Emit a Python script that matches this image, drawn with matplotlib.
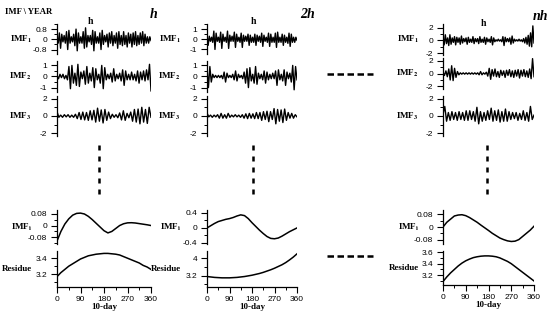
import numpy as np
import matplotlib
matplotlib.use('Agg')
import matplotlib.pyplot as plt
from matplotlib.ticker import MultipleLocator, FixedLocator

plt.rcParams['mathtext.fontset'] = 'stix'

# ****** data ******

# fast components, one list per column (h, 2h, nh)
c1_imf1 = [0.2,-0.3,0.5,-0.7,0.4,-0.2,0.3,-0.3, 0.6,-0.8,0.7,-0.3,0.2,-0.2,0.4,-0.5,
           0.8,-0.9,0.5,-0.3,0.2,-0.3,0.6,-0.7, 0.9,-0.6,0.3,-0.2,0.3,-0.4,0.7,-0.9,
           0.6,-0.3,0.2,-0.3,0.5,-0.8,0.7,-0.4, 0.3,-0.2,0.4,-0.6,0.5,-0.3,0.6,-0.5,
           0.3,-0.3,0.5,-0.7,0.6,-0.4,0.3,-0.5, 0.6,-0.4,0.3,-0.6,0.5,-0.3,0.4,-0.6,
           0.5,-0.4,0.6,-0.5,0.3,-0.4,0.5,-0.3, 0.6,-0.5,0.4,-0.3,0.2,-0.3,0.2,-0.1]
c1_imf2 = [0.1,-0.2,0.2,-0.1,0.2,-0.2,0.1,-0.3, 0.9,-1.1,1.0,-0.6,0.3,-0.8,1.1,-0.9,
           0.4,-0.2,0.5,-0.7,0.9,-0.6,0.3,-0.4, 0.8,-1.0,0.7,-0.3,0.2,-0.6,1.0,-1.1,
           0.8,-0.3,0.2,-0.2,0.3,-0.5,0.7,-0.4, 0.2,-0.2,0.3,-0.4,0.6,-0.8,0.5,-0.3,
           0.2,-0.3,0.4,-0.3,0.2,-0.4,0.5,-0.6, 0.4,-0.3,0.5,-0.4,0.6,-0.3,1.1,-1.3]
c1_imf3 = [0.5,-0.15,0.1,-0.15,0.15,-0.1,0.15,-0.15, 0.1,-0.15,0.2,-0.3,0.4,-0.4,0.45,-0.45,
           0.4,-0.5,0.6,-0.45,0.65,-0.7,0.9,-0.6, 0.7,-0.8,0.75,-0.5,0.45,-0.3,0.2,-0.15,
           0.15,-0.2,0.35,-0.45,0.6,-0.5,0.3,-0.2, 0.45,-0.6,0.75,-0.7,0.8,-0.9,1.0,-0.7,
           0.75,-0.85,1.0,-0.15]

c2_imf1 = [0.5,-0.6,0.3,-0.2,0.2,-0.3,0.8,-1.0, 0.6,-0.2,0.2,-0.3,0.7,-0.9,0.5,-0.2,
           0.2,-0.3,0.8,-0.9,0.4,-0.2,0.3,-0.2, 0.7,-0.8,0.5,-0.2,0.2,-0.3,0.6,-0.8,
           0.4,-0.2,0.3,-0.2,0.5,-0.6,0.4,-0.3, 0.2,-0.3,0.5,-0.6,0.4,-0.2,0.3,-0.3,
           0.6,-0.7,0.4,-0.2,0.2,-0.3,0.6,-0.7, 0.5,-0.3,0.2,-0.3,0.6,-0.8,0.7,-0.3,
           0.2,-0.3,0.5,-0.6,0.4,-0.3,0.2,-0.4, 0.6,-0.7,0.5,-0.3,0.2,-0.3,0.2,-0.1]
c2_imf2 = [0.8,-1.0,0.9,-0.5,0.2,-0.1,0.1,-0.1, 0.1,-0.1,0.1,-0.2,0.4,-0.5,0.3,-0.1,
           0.1,-0.1,0.2,-0.3,0.5,-0.4,0.2,-0.1, 0.1,-0.2,0.4,-0.6,0.7,-1.0,0.8,-0.4,
           0.2,-0.6,0.9,-0.7,0.3,-0.2,0.2,-0.3, 0.5,-0.6,0.4,-0.3,0.2,-0.2,0.3,-0.2,
           0.5,-0.8,0.6,-0.3,0.2,-0.4,0.6,-0.8, 0.4,-0.2,0.3,-0.5,1.0,-1.2,0.9,-0.3]
c2_imf3 = [0.35,-0.1,0.1,-0.15,0.1,-0.1,0.15,-0.25, 0.3,-0.25,0.15,-0.25,0.3,-0.15,0.1,-0.1,
           0.15,-0.1,0.1,-0.15,0.15,-0.25,0.25,-0.3, 0.3,-0.25,0.25,-0.3,0.4,-0.3,0.4,-0.5,
           0.5,-0.4,0.55,-0.65,0.5,-0.4,0.85,-0.9, 0.75,-0.6,0.7,-0.75,0.8,-0.5,0.4,-0.25,
           0.3,-0.25,0.15,-0.1]

c3_imf1 = [0.6,-0.7,0.9,-0.5,0.4,-0.8,0.9,-0.6, 0.4,-0.3,0.6,-0.7,0.5,-0.3,0.4,-0.6,
           0.7,-0.4,0.3,-0.2,0.4,-0.6,0.5,-0.3, 0.2,-0.3,0.6,-0.5,0.3,-0.2,0.3,-0.5,
           0.6,-0.3,0.2,-0.3,0.5,-0.6,0.4,-0.2, 0.2,-0.3,0.6,-0.7,0.4,-0.2,0.1,-0.1,
           0.2,-0.1,0.1,-0.2,0.6,-0.8,0.5,-0.2, 0.3,-0.2,0.4,-0.6,0.7,-0.4,0.2,-0.1,
           0.1,-0.1,0.2,-0.1,0.1,-0.2,0.3,-0.4, 0.5,-0.6,0.8,-0.9,1.2,-1.0,2.3,-0.4]
c3_imf2 = [0.2,-0.3,0.4,-0.5,0.7,-1.0,1.2,-1.1, 0.8,-0.6,0.3,-0.2,0.1,-0.1,0.1,-0.1,
           0.1,-0.1,0.1,-0.1,0.1,-0.1,0.1,-0.1, 0.1,-0.2,0.3,-0.2,0.1,-0.1,0.2,-0.4,
           0.8,-0.9,0.6,-0.4,0.7,-0.5,0.3,-0.6, 0.5,-0.3,0.4,-0.6,0.5,-0.3,0.6,-0.5,
           0.4,-0.6,0.5,-0.4,0.6,-0.7,0.5,-0.4, 0.6,-0.5,0.4,-0.6,0.7,-0.8,2.3,-0.5]
c3_imf3 = [0.2,1.1,-0.6,0.4,-0.5,0.5,-0.4,0.4, -0.5,0.5,-0.4,0.4,-0.5,0.6,-0.5,0.6,
           -0.4,0.5,-0.6,1.0,-0.9,0.5,-0.6,0.4, -0.5,0.6,-0.4,0.9,-0.6,0.6,-0.5,0.7,
           -0.7,0.5,-0.6,0.8,-0.6,0.5,-0.4,0.4, -0.3,0.4,-0.5,0.3,-0.4,0.6,-0.5,0.4,
           -0.6,1.1,-0.4,0.1]

# slow components, sampled every 15 ten-day steps
days = [0,15,30,45,60,75,90,105,120,135,150,165,180,195,210,225,240,255,270,285,300,315,330,345,360]
c1_last = [-0.105,-0.04,0.01,0.045,0.07,0.082,0.084,0.078,0.062,0.04,0.015,-0.01,-0.035,
           -0.05,-0.04,-0.02,0.0,0.012,0.018,0.019,0.017,0.013,0.009,0.005,0.0]
c1_res = [3.17,3.22,3.26,3.30,3.33,3.36,3.39,3.41,3.43,3.44,3.45,3.455,3.46,3.46,3.455,
          3.45,3.44,3.42,3.40,3.38,3.36,3.34,3.31,3.29,3.26]
c2_last = [0.0,0.06,0.12,0.17,0.2,0.23,0.25,0.28,0.32,0.35,0.33,0.25,0.14,0.04,-0.06,
           -0.15,-0.23,-0.28,-0.29,-0.27,-0.22,-0.16,-0.1,-0.05,0.0]
c2_res = [3.16,3.14,3.12,3.11,3.10,3.10,3.10,3.11,3.12,3.14,3.16,3.19,3.22,3.26,3.30,
          3.35,3.41,3.47,3.54,3.62,3.70,3.80,3.92,4.05,4.2]
c3_last = [0.0,0.03,0.05,0.07,0.076,0.078,0.072,0.06,0.045,0.03,0.012,-0.005,-0.022,
           -0.04,-0.055,-0.07,-0.08,-0.088,-0.092,-0.09,-0.08,-0.06,-0.04,-0.02,0.005]
c3_res = [3.09,3.17,3.24,3.30,3.36,3.41,3.45,3.48,3.505,3.52,3.53,3.535,3.535,3.53,3.52,
          3.50,3.47,3.44,3.40,3.35,3.30,3.25,3.20,3.15,3.10]

day_ticks = [0, 90, 180, 270, 360]

W, H = 550, 311
fig = plt.figure(figsize=(W / 100, H / 100), dpi=100)

serif = 'Liberation Serif'
sans = 'Liberation Sans'


def box(x0, x1, y0, y1):
    # pixel box -> figure fraction
    return [x0 / W, 1 - y1 / H, (x1 - x0) / W, (y1 - y0) / H]


def panel(x0, x1, y0, y1, xs, ys, ylim, yticks, label, lab_x, lw=1.0, bottom=False):
    ax = fig.add_axes(box(x0, x1, y0, y1))
    ax.plot(xs, ys, color='black', lw=lw)
    ax.set_xlim(0, 360)
    ax.set_ylim(*ylim)
    for s in ['top', 'right']:
        ax.spines[s].set_visible(False)
    ax.spines['left'].set_linewidth(0.9)
    ax.yaxis.set_major_locator(FixedLocator(yticks))
    step = yticks[1] - yticks[0]
    ax.yaxis.set_minor_locator(MultipleLocator(step / 2))
    ax.tick_params(axis='y', which='major', direction='out', length=4, width=0.8, pad=3, labelsize=6)
    ax.tick_params(axis='y', which='minor', direction='out', length=2.2, width=0.7)
    ax.set_yticklabels([('%g' % t) for t in yticks], fontfamily=sans)
    if bottom:
        ax.spines['bottom'].set_linewidth(0.9)
        ax.set_xticks(day_ticks)
        ax.xaxis.set_minor_locator(MultipleLocator(45))
        ax.tick_params(axis='x', which='major', direction='out', length=4, width=0.8, pad=2.5, labelsize=6)
        ax.tick_params(axis='x', which='minor', direction='out', length=2.2, width=0.7)
        ax.set_xticklabels([str(d) for d in day_ticks], fontfamily=sans)
        ax.set_xlabel('10-day', fontfamily=serif, fontweight='bold', fontsize=6.5, labelpad=0)
    else:
        ax.spines['bottom'].set_visible(False)
        ax.set_xticks([])
    ax.patch.set_alpha(0)
    ymid = 1 - (y0 + y1) / 2 / H
    fig.text(lab_x / W, ymid, label, ha='right', va='center', fontsize=6.5,
             fontfamily=serif, fontweight='bold')
    return ax


imf_lab = [r'IMF$_\mathbf{1}$', r'IMF$_\mathbf{2}$', r'IMF$_\mathbf{3}$']
last_lab = r'IMF$_\mathbf{i}$'

cols = [
    dict(x0=57, x1=151, tops=[c1_imf1, c1_imf2, c1_imf3], last=c1_last, res=c1_res,
         tlim=[(-1.15, 1.2), (-1.4, 1.4), (-2.3, 2.3)], tticks=[[-0.8, 0, 0.8], [-1, 0, 1], [-2, 0, 2]],
         llim=(-0.125, 0.105), lticks=[-0.08, 0, 0.08], rlim=(3.04, 3.49), rticks=[3.2, 3.4],
         lab=32),
    dict(x0=207, x1=297, tops=[c2_imf1, c2_imf2, c2_imf3], last=c2_last, res=c2_res,
         tlim=[(-1.45, 1.5), (-1.4, 1.4), (-2.3, 2.3)], tticks=[[-1, 0, 1], [-1, 0, 1], [-2, 0, 2]],
         llim=(-0.43, 0.48), lticks=[-0.4, 0, 0.4], rlim=(2.68, 4.33), rticks=[3.2, 4],
         lab=181),
    dict(x0=443, x1=534, tops=[c3_imf1, c3_imf2, c3_imf3], last=c3_last, res=c3_res,
         tlim=[(-2.3, 2.6), (-2.4, 2.4), (-2.3, 2.3)], tticks=[[-2, 0, 2], [-2, 0, 2], [-2, 0, 2]],
         llim=(-0.108, 0.108), lticks=[-0.08, 0, 0.08], rlim=(3.03, 3.62), rticks=[3.2, 3.4, 3.6],
         lab=419),
]

top_rows = [(24, 54), (61, 92), (96, 136)]
top_rows3 = [(24, 55), (58, 89), (96, 136)]

for k, c in enumerate(cols):
    rows = top_rows3 if k == 2 else top_rows
    for i in range(3):
        ys = c['tops'][i]
        xs = np.linspace(0, 360, len(ys))
        panel(c['x0'], c['x1'], rows[i][0], rows[i][1], xs, ys, c['tlim'][i], c['tticks'][i],
              imf_lab[i], c['lab'])
    panel(c['x0'], c['x1'], 210, 244, days, c['last'], c['llim'], c['lticks'], last_lab,
          c['lab'], lw=1.1)
    rb = 285 if k == 2 else 287
    panel(c['x0'], c['x1'], 251, rb, days, c['res'], c['rlim'], c['rticks'], 'Residue',
          c['lab'], lw=1.1, bottom=True)

# titles
fig.text(5 / W, 1 - 12 / H, 'IMF \\ YEAR', fontsize=6.2, fontfamily=serif, fontweight='bold',
         va='center', ha='left')
for x, y, s in [(154, 15, 'h'), (308, 15, '2h'), (548, 17, 'nh')]:
    fig.text(x / W, 1 - y / H, s, fontsize=10, fontfamily=serif, fontweight='bold',
             fontstyle='italic', ha='right' if s == 'nh' else 'center', va='center')
for x, y in [(90, 22), (253, 22), (483, 23)]:
    fig.text(x / W, 1 - y / H, 'h', fontsize=7, fontfamily=serif, fontweight='bold',
             ha='center', va='center')

# dashed connectors
over = fig.add_axes([0, 0, 1, 1])
over.set_xlim(0, W)
over.set_ylim(H, 0)
over.axis('off')
over.patch.set_alpha(0)
for x in [99, 253, 487]:
    over.plot([x, x], [145, 195], color='black', lw=1.8, dashes=(2.0, 2.4))
for y in [74, 256]:
    over.plot([327, 373], [y, y], color='black', lw=1.8, dashes=(2.6, 1.4))

fig.savefig('out.png', dpi=100)
